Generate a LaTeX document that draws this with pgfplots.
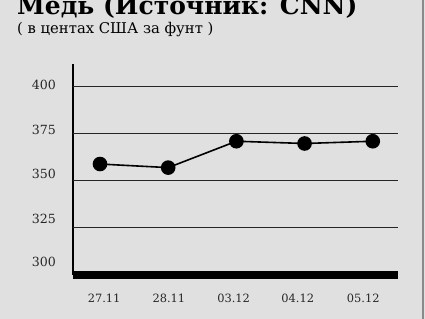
\documentclass[border=0pt]{standalone}
\usepackage{pgfplots}
\pgfplotsset{compat=1.18}
\usepackage{fontspec}
\setmainfont{DejaVu Serif}
\definecolor{bgcol}{HTML}{E0E0E0}
\definecolor{bordercol}{HTML}{8A8A8A}
\begin{document}
\begin{tikzpicture}
\useasboundingbox (0,0) rectangle (425bp,319bp);
\clip (0,0) rectangle (425bp,319bp);
\fill[bgcol] (0,0) rectangle (425bp,319bp);
\draw[bordercol, line width=2bp] (422.5bp,0) -- (422.5bp,319bp);
\node[anchor=base west, inner sep=0pt, font=\fontsize{25bp}{28bp}\selectfont\bfseries] at (17bp,304.5bp) {Медь (Источник: CNN)};
\node[anchor=base west, inner sep=0pt, font=\fontsize{14.8bp}{17bp}\selectfont] at (17bp,285.5bp) {( в центах США за фунт )};
\begin{axis}[
  at={(73bp,44bp)}, anchor=south west,
  scale only axis, width=325bp, height=211bp,
  xmin=-0.396, xmax=4.37, ymin=300, ymax=412,
  axis x line*=bottom, axis y line*=left,
  x axis line style={draw=none},
  y axis line style={line width=1.5bp, black},
  /pgf/number format/assume math mode=true,
  xtick={0.06,1.01,1.96,2.90,3.86},
  xticklabels={27.11,28.11,03.12,04.12,05.12},
  ytick={306.9,329.7,353.6,377,400.8},
  yticklabels={300,325,350,375,400},
  major tick length=0pt,
  tick style={draw=none},
  yticklabel style={anchor=east, inner sep=0pt, xshift=-17bp, font=\fontsize{12.6bp}{14bp}\selectfont, text=black!85},
  xticklabel style={anchor=north, inner sep=0pt, yshift=-19bp, font=\fontsize{11.4bp}{13bp}\selectfont, text=black!85},
  extra y ticks={325,350,375,400},
  extra y tick labels={},
  extra y tick style={grid=major, major grid style={black!85, line width=0.9bp}},
  clip=false,
]
\draw[black, line width=8bp] (axis cs:-0.396,300) -- (axis cs:4.37,300);
\addplot[black, line width=1.6bp, mark=*, mark size=6.5bp, mark options={fill=black}]
  coordinates {(0,358.9) (1,357.0) (2,371.0) (3,369.8) (4,371.0)};
\end{axis}
\end{tikzpicture}
\end{document}
